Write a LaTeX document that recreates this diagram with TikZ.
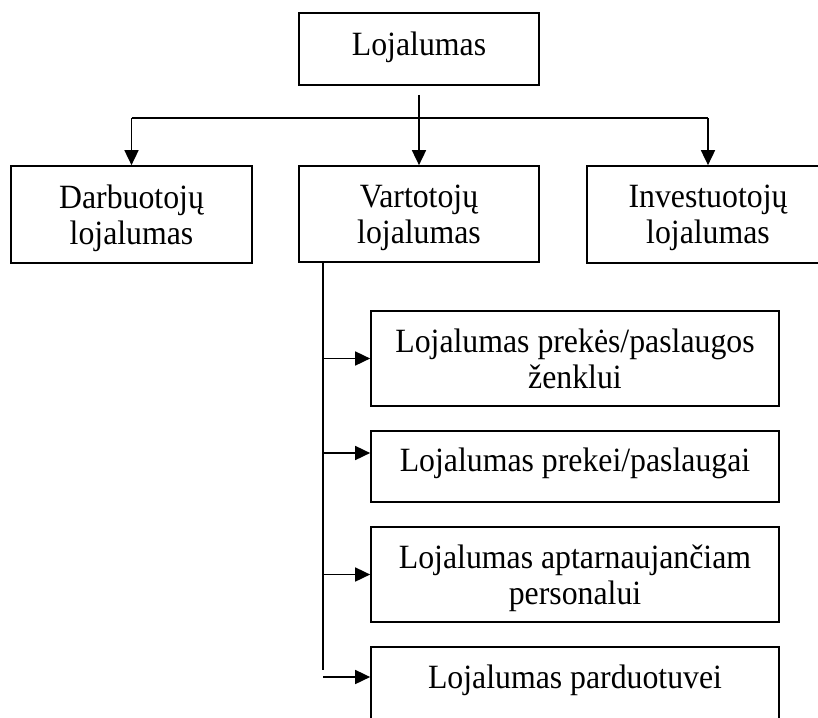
\documentclass[tikz,border=0pt]{standalone}
\usepackage{fontspec}
\setmainfont{Liberation Serif}[FakeStretch=0.935]
\usetikzlibrary{arrows.meta}
\tikzset{
  box/.style={draw, line width=1.7pt, inner sep=0pt},
  txt/.style={font=\fontsize{34pt}{36pt}\selectfont, align=center, inner sep=0pt},
  link/.style={line width=1.7pt},
  arr/.style={line width=1.7pt, -{Triangle[length=15pt,width=14pt]}},
}
\begin{document}
\begin{tikzpicture}[x=1pt,y=-1pt]
  \useasboundingbox (0,0) rectangle (818,717);
  \clip (0,0) rectangle (818,717);

  % top level
  \node[box, minimum width=240pt, minimum height=72pt] (top) at (419,49) {};
  \node[txt] (topT) at (419,47) {Lojalumas};

  % second level
  \node[box, minimum width=241pt, minimum height=97pt] (darb) at (131.5,214.5) {};
  \node[box, minimum width=240pt, minimum height=96pt] (vart) at (419,214) {};
  \node[box, minimum width=242pt, minimum height=97pt] (inv) at (708,214.5) {};
  \node[txt] (darbT) at (131.5,218) {Darbuotojų\\lojalumas};
  \node[txt] (vartT) at (419,218) {Vartotojų\\lojalumas};
  \node[txt] (invT) at (708,218) {Investuotojų\\lojalumas};

  % kinds of customer loyalty
  \node[box, minimum width=408pt, minimum height=95pt] (s1) at (575,358.5) {};
  \node[box, minimum width=408pt, minimum height=71pt] (s2) at (575,466.5) {};
  \node[box, minimum width=408pt, minimum height=95pt] (s3) at (575,574.5) {};
  \node[box, minimum width=408pt, minimum height=93pt] (s4) at (575,693.5) {};
  \node[txt] (s1T) at (575,358.5) {Lojalumas prekės/paslaugos\\ženklui};
  \node[txt] (s2T) at (575,463) {Lojalumas prekei/paslaugai};
  \node[txt] (s3T) at (575,578) {Lojalumas aptarnaujančiam\\personalui};
  \node[txt] (s4T) at (575,680) {Lojalumas parduotuvei};

  % branching from the top box
  \coordinate (stem) at ([yshift=-9pt]top.south);
  \coordinate (bar) at (419,118);
  \draw[arr] (stem) -- (vart.north);
  \draw[link] (darb.north |- bar) -- (inv.north |- bar);
  \draw[arr] (darb.north |- bar) -- (darb.north);
  \draw[arr] (inv.north |- bar) -- (inv.north);

  % trunk under the customer box
  \coordinate (trunk) at (323,262);
  \coordinate (trunkEnd) at (323,670);
  \draw[link] (trunk) -- (trunkEnd);
  \draw[arr] (trunk |- s1.west) -- (s1.west);
  \draw[arr] (trunk |- 0,453) -- (s2.west |- 0,453);
  \draw[arr] (trunk |- s3.west) -- (s3.west);
  \draw[arr] (trunk |- 0,677) -- (s4.west |- 0,677);
\end{tikzpicture}
\end{document}
